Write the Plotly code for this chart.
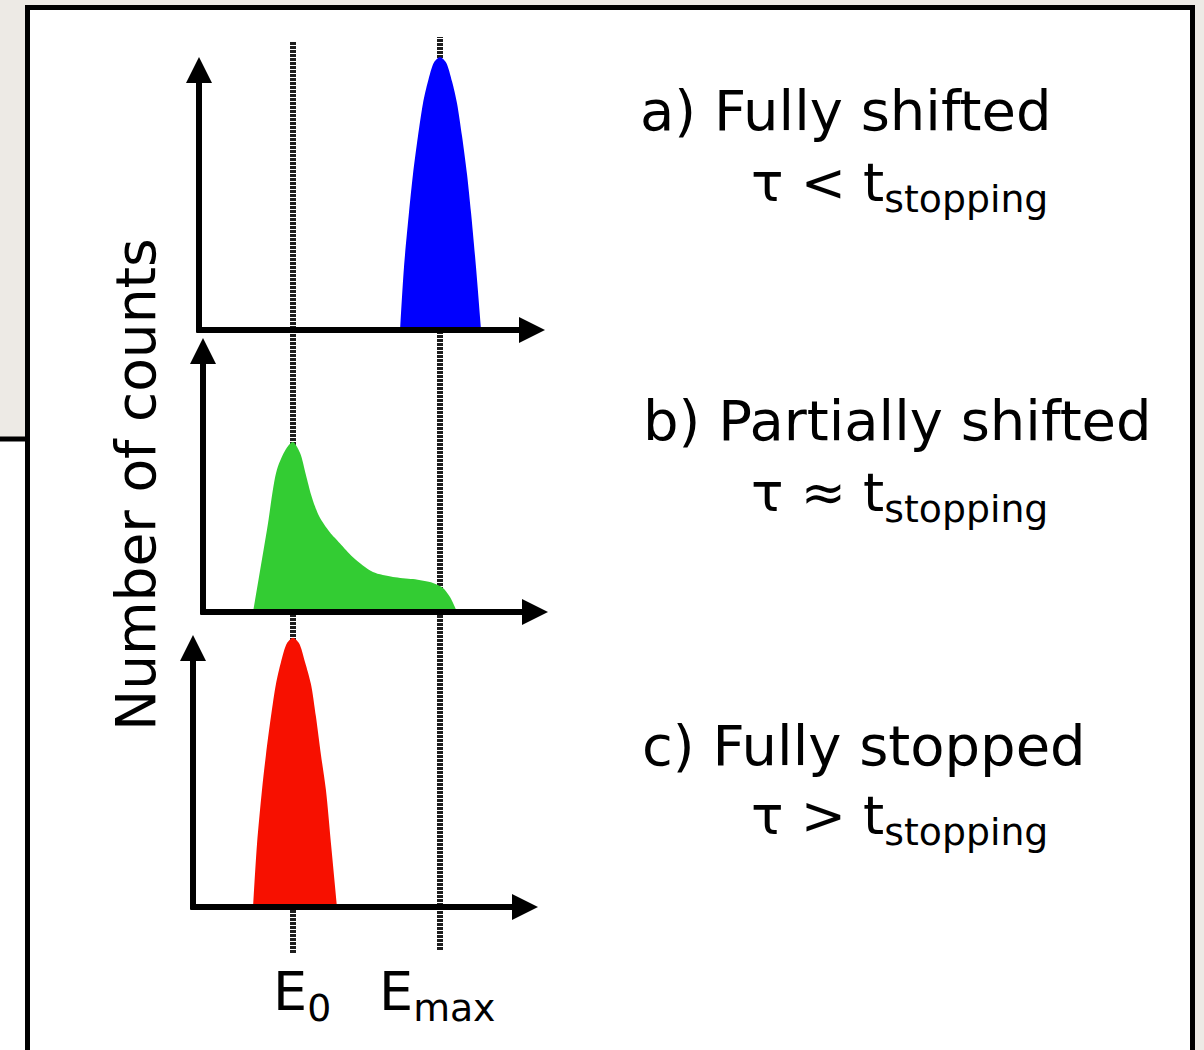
import plotly.graph_objects as go

# ---------------- data (energy in units where E0 = 1, Emax = 2; counts normalised) ----------------
E0_VALUE = 1.0
EMAX_VALUE = 2.0

energy_shifted = [1.728, 1.755, 1.789, 1.816, 1.850, 1.884, 1.918, 1.959, 2.000,
                  2.041, 2.082, 2.116, 2.150, 2.184, 2.211, 2.245, 2.279]
counts_shifted = [0.0, 0.23, 0.43, 0.57, 0.71, 0.83, 0.91, 0.98, 1.0,
                  0.98, 0.91, 0.83, 0.71, 0.57, 0.43, 0.23, 0.0]

energy_partial = [0.728, 0.823, 0.891, 0.959, 1.000, 1.048, 1.088, 1.122, 1.150, 1.177,
                  1.211, 1.252, 1.320, 1.408, 1.544, 1.680, 1.816, 1.952, 2.020, 2.068, 2.116]
counts_partial = [0.0, 0.30, 0.52, 0.60, 0.62, 0.58, 0.50, 0.43, 0.385, 0.35,
                  0.32, 0.29, 0.25, 0.20, 0.146, 0.128, 0.12, 0.106, 0.088, 0.055, 0.0]

energy_stopped = [0.728, 0.755, 0.789, 0.816, 0.850, 0.884, 0.918, 0.959, 1.000,
                  1.041, 1.082, 1.122, 1.156, 1.190, 1.224, 1.259, 1.299]
counts_stopped = [0.0, 0.23, 0.43, 0.56, 0.70, 0.82, 0.90, 0.97, 0.99,
                  0.97, 0.90, 0.82, 0.70, 0.56, 0.43, 0.23, 0.0]

panel_titles = ["a) Fully shifted", "b) Partially shifted", "c) Fully stopped"]
panel_relations = ["τ &lt; t<sub>stopping</sub>", "τ ≈ t<sub>stopping</sub>", "τ &gt; t<sub>stopping</sub>"]
energy_tick_labels = ["E<sub>0</sub>", "E<sub>max</sub>"]
y_title = "Number of counts"

# ---------------- layout geometry ----------------
W, H = 1204, 1050
PX_E0, PX_PER_E = 293, 147
GREY = "#EDEAE5"
FONT = "DejaVu Sans"
FS_TITLE = 56
FS_REL = 54
FS_LABEL = 55


def e_of_px(p):
    return E0_VALUE + (p - PX_E0) / PX_PER_E


def fx(p):
    return p / W


def fy(p):
    return 1 - p / H


# (baseline px, arrow-tip px, y-axis x px, x-axis tip px, colour, energies, counts)
panels = [
    (330, 57, 199, 545, "#0000FF", energy_shifted, counts_shifted),
    (612, 338, 203, 548, "#33CC33", energy_partial, counts_partial),
    (907, 635, 193, 538, "#F71000", energy_stopped, counts_stopped),
]

fig = go.Figure()
layout_axes = {}
annotations = []
LW = 6
HEAD = 26.0
ASIZE = (HEAD / 5.0) / LW

for i, (base, top, axx, tipx, col, ex, cy) in enumerate(panels):
    yname = "y" if i == 0 else f"y{i + 1}"
    lname = "yaxis" if i == 0 else f"yaxis{i + 1}"
    layout_axes[lname] = dict(domain=[fy(base), fy(top)], range=[0, 1], visible=False,
                              anchor="x", fixedrange=True)
    fig.add_trace(go.Scatter(x=ex, y=cy, xaxis="x", yaxis=yname, mode="lines",
                             line=dict(color=col, width=0, shape="spline", smoothing=0.8),
                             fill="tozeroy", fillcolor=col, hoverinfo="skip",
                             showlegend=False))
    hpx = base - top
    # vertical axis arrow
    annotations.append(dict(xref="x", yref=yname, axref="x", ayref=yname,
                            x=e_of_px(axx), y=1.0,
                            ax=e_of_px(axx), ay=-(LW / 2) / hpx,
                            text="", showarrow=True, arrowhead=2, arrowwidth=LW,
                            arrowsize=ASIZE, arrowcolor="black", standoff=0,
                            startstandoff=0, borderpad=0))
    # horizontal axis arrow
    annotations.append(dict(xref="x", yref=yname, axref="x", ayref=yname,
                            x=e_of_px(tipx), y=0,
                            ax=e_of_px(axx - LW / 2), ay=0,
                            text="", showarrow=True, arrowhead=2, arrowwidth=LW,
                            arrowsize=ASIZE, arrowcolor="black", standoff=0,
                            startstandoff=0, borderpad=0))

# panel descriptions
title_pos = [(639, 77), (642, 387), (641, 712)]
rel_pos = [(750, 150), (750, 460), (750, 783)]
for t, (px, py) in zip(panel_titles, title_pos):
    annotations.append(dict(xref="paper", yref="paper", x=fx(px), y=fy(py),
                            xanchor="left", yanchor="top", text=t, showarrow=False,
                            borderpad=0, font=dict(family=FONT, size=FS_TITLE, color="black")))
for t, (px, py) in zip(panel_relations, rel_pos):
    annotations.append(dict(xref="paper", yref="paper", x=fx(px), y=fy(py),
                            xanchor="left", yanchor="top", text=t, showarrow=False,
                            borderpad=0, font=dict(family=FONT, size=FS_REL, color="black")))

# energy labels
for t, ev, px in zip(energy_tick_labels, [E0_VALUE, EMAX_VALUE], [272, 378]):
    annotations.append(dict(xref="paper", yref="paper", x=fx(px), y=fy(959),
                            xanchor="left", yanchor="top", text=t, showarrow=False,
                            borderpad=0, font=dict(family=FONT, size=FS_REL, color="black")))

# y title
annotations.append(dict(xref="paper", yref="paper", x=fx(136), y=fy(485),
                        xanchor="center", yanchor="middle", text=y_title, textangle=-90,
                        showarrow=False, borderpad=0,
                        font=dict(family=FONT, size=FS_LABEL, color="black")))

shapes = [
    # white lower-left strip
    dict(type="rect", xref="paper", yref="paper", x0=fx(0), x1=fx(28), y0=fy(H + 20), y1=fy(439),
         fillcolor="white", line=dict(width=0), layer="below"),
    # framed white panel
    dict(type="rect", xref="paper", yref="paper", x0=fx(27.5), x1=fx(1192.5), y0=fy(H + 30), y1=fy(7.5),
         fillcolor="white", line=dict(color="black", width=5), layer="below"),
    dict(type="line", xref="paper", yref="paper", x0=fx(0), x1=fx(28), y0=fy(439), y1=fy(439),
         line=dict(color="black", width=5), layer="below"),
    # dotted energy markers
    dict(type="line", xref="x", yref="paper", x0=E0_VALUE, x1=E0_VALUE, y0=fy(953), y1=fy(42),
         line=dict(color="#1e1e1e", width=6, dash="3px,1px"), layer="below"),
    dict(type="line", xref="x", yref="paper", x0=EMAX_VALUE, x1=EMAX_VALUE, y0=fy(950), y1=fy(37),
         line=dict(color="#1e1e1e", width=6, dash="3px,1px"), layer="below"),
]

fig.update_layout(
    width=W, height=H,
    margin=dict(l=0, r=0, t=0, b=0, pad=0),
    paper_bgcolor=GREY,
    plot_bgcolor="rgba(0,0,0,0)",
    xaxis=dict(domain=[0, 1], range=[e_of_px(0), e_of_px(W)], visible=False, fixedrange=True),
    shapes=shapes,
    annotations=annotations,
    showlegend=False,
    font=dict(family=FONT, color="black"),
    **layout_axes,
)

fig.write_html(
    "out.html",
    config={"displayModeBar": False},
    post_script="document.body.style.margin='0';document.body.style.overflow='hidden';"
                "document.body.style.background='" + GREY + "';",
)
